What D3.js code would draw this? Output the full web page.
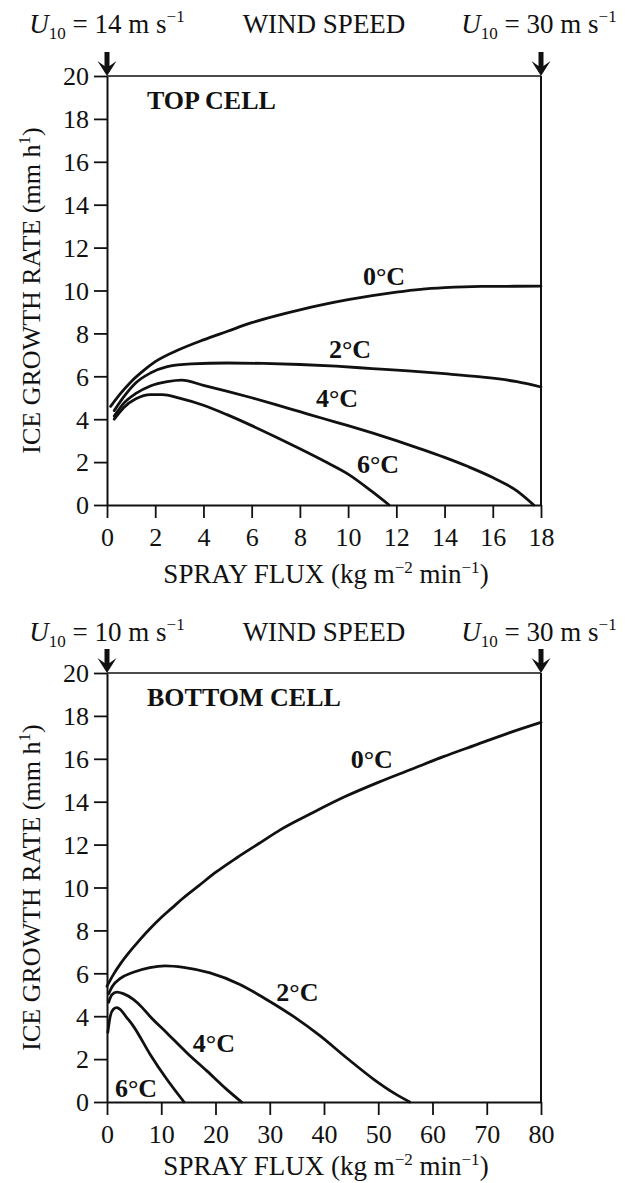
<!DOCTYPE html>
<html>
<head>
<meta charset="utf-8">
<script src="https://cdn.jsdelivr.net/npm/d3@7"></script>
<style>
  html, body { margin: 0; padding: 0; background: #fff; }
  svg { display: block; }
  text { font-family: "Liberation Serif", "Times New Roman", serif; fill: #111; }
</style>
</head>
<body>
<svg id="chart" width="631" height="1183"></svg>
<script>
// ---- data ---------------------------------------------------------------
const rateTicks = [0, 2, 4, 6, 8, 10, 12, 14, 16, 18, 20];
const topFluxTicks = [0, 2, 4, 6, 8, 10, 12, 14, 16, 18];
const bottomFluxTicks = [0, 10, 20, 30, 40, 50, 60, 70, 80];
const temps = ["0°C", "2°C", "4°C", "6°C"];

// Top cell: [spray flux, ice growth rate]
const top0 = [[0.15,4.6],[0.6,5.25],[1,5.75],[1.5,6.25],[2,6.68],[3,7.25],[4,7.7],[5,8.1],[6,8.5],[7,8.82],[8,9.1],[9,9.35],[10,9.57],[11,9.76],[12,9.92],[13,10.05],[14,10.13],[15.5,10.19],[18,10.2]];
const top2 = [[0.3,4.4],[0.7,5.05],[1.2,5.7],[1.8,6.15],[2.5,6.45],[3.5,6.58],[5,6.62],[6.5,6.6],[8,6.55],[9.5,6.47],[11,6.36],[12.5,6.25],[14,6.12],[15.5,5.97],[17,5.75],[18,5.5]];
const top4 = [[0.3,4.15],[0.7,4.75],[1.2,5.2],[1.8,5.55],[2.5,5.75],[3.1,5.82],[4,5.58],[5,5.3],[6,5.0],[7,4.68],[8,4.35],[9,4.02],[10,3.7],[11,3.36],[12,3.0],[13,2.62],[14,2.22],[15,1.78],[16,1.28],[17,0.66],[17.7,0]];
const top6 = [[0.3,4.0],[0.7,4.55],[1.2,4.95],[1.8,5.15],[2.3,5.15],[3,4.98],[4,4.65],[5,4.2],[6,3.7],[7,3.17],[8,2.62],[9,2.05],[10,1.44],[11,0.62],[11.7,0]];

// Bottom cell: [spray flux, ice growth rate]
const bot0 = [[0,5.4],[1.2,5.95],[2.5,6.45],[4,6.95],[6,7.55],[8,8.1],[10,8.6],[12,9.05],[14,9.5],[17,10.1],[20,10.7],[24,11.4],[28,12.05],[32,12.7],[38,13.5],[44,14.25],[50,14.9],[56,15.5],[62,16.1],[68,16.65],[74,17.2],[80,17.7]];
const bot2 = [[0.3,5.05],[1,5.4],[2.4,5.75],[4.85,6.05],[7.9,6.27],[10.7,6.35],[14.1,6.28],[19,6.02],[24.5,5.48],[29.4,4.78],[34.3,4.0],[39.3,3.08],[44.2,2.05],[49.1,1.07],[53,0.4],[55.8,0]];
const bot4 = [[0.3,4.65],[0.9,5.0],[1.8,5.12],[3,5.05],[4.85,4.78],[6.5,4.4],[7.9,4.0],[11,3.23],[14.7,2.3],[18.4,1.45],[22,0.6],[24.8,0]];
const bot6 = [[0.15,3.25],[0.6,4.0],[1.17,4.32],[1.8,4.4],[2.5,4.3],[3.6,3.95],[4.85,3.54],[7.93,2.23],[11,1.07],[14.2,0]];

const windLeftTop = "14", windLeftBottom = "10", windRight = "30";

// ---- layout -------------------------------------------------------------
const svg = d3.select("#chart");
const left = 107, right = 541;

const panels = [
  { title: "TOP CELL", top: 76, bottom: 505, headY: 33, xTitleGap: 78, xMax: 18, xTicks: topFluxTicks,
    series: [top0, top2, top4, top6], windLeft: windLeftTop,
    labels: [[11.49,10.26],[10.08,6.85],[9.54,4.57],[11.24,1.49]] },
  { title: "BOTTOM CELL", top: 673, bottom: 1102, headY: 641, xTitleGap: 73, xMax: 80, xTicks: bottomFluxTicks,
    series: [bot0, bot2, bot4, bot6], windLeft: windLeftBottom,
    labels: [[48.8,15.57],[35.1,4.71],[19.7,2.33],[5.35,0.23]] }
];

function windLabel(g, cx, y, value) {
  const t = g.append("text").attr("x", cx).attr("y", y)
    .attr("text-anchor", "middle").style("font-size", "27px");
  t.append("tspan").style("font-style", "italic").text("U");
  t.append("tspan").style("font-size", "17px").attr("dy", 6).text("10");
  t.append("tspan").attr("dy", -6).text(" = " + value + " m s");
  t.append("tspan").style("font-size", "17px").attr("dy", -11).text("\u22121");
}

function arrow(g, cx, tip) {
  g.append("path")
    .attr("d", `M${cx},${tip} L${cx-9.5},${tip-15} L${cx-2.5},${tip-10} L${cx-2.5},${tip-24} L${cx+2.5},${tip-24} L${cx+2.5},${tip-10} L${cx+9.5},${tip-15} Z`)
    .attr("fill", "#111");
}

panels.forEach(p => {
  const g = svg.append("g");
  const x = d3.scaleLinear().domain([0, p.xMax]).range([left, right]);
  const y = d3.scaleLinear().domain([0, 20]).range([p.bottom, p.top]);

  // frame: top and right edges
  g.append("line").attr("x1", left).attr("x2", right).attr("y1", p.top).attr("y2", p.top)
    .attr("stroke", "#111").attr("stroke-width", 1.6);
  g.append("line").attr("x1", right).attr("x2", right).attr("y1", p.top).attr("y2", p.bottom)
    .attr("stroke", "#111").attr("stroke-width", 2);

  // y axis
  const ya = g.append("g").attr("transform", `translate(${left},0)`)
    .call(d3.axisLeft(y).tickValues(rateTicks).tickSize(13).tickPadding(5).tickSizeOuter(0));
  ya.select(".domain").attr("stroke", "#111").attr("stroke-width", 2);
  ya.selectAll(".tick line").attr("stroke", "#111").attr("stroke-width", 1.8);
  ya.selectAll(".tick text").style("font-size", "26px").attr("fill", "#111")
    .attr("font-family", null).attr("dy", "0.34em");

  // x axis
  const xa = g.append("g").attr("transform", `translate(0,${p.bottom})`)
    .call(d3.axisBottom(x).tickValues(p.xTicks).tickSize(13).tickSizeOuter(0));
  xa.select(".domain").attr("stroke", "#111").attr("stroke-width", 2);
  xa.selectAll(".tick line").attr("stroke", "#111").attr("stroke-width", 1.8);
  xa.selectAll(".tick text").style("font-size", "26px").attr("fill", "#111")
    .attr("font-family", null).attr("y", 41).attr("dy", 0);

  // axis titles
  const yt = g.append("text")
    .attr("transform", `translate(40,${(p.top + p.bottom) / 2}) rotate(-90)`)
    .attr("text-anchor", "middle").style("font-size", "26px");
  yt.append("tspan").text("ICE GROWTH RATE (mm h");
  yt.append("tspan").style("font-size", "17px").attr("dy", -10).text("1");
  yt.append("tspan").attr("dy", 10).text(")");

  const xt = g.append("text").attr("x", 326).attr("y", p.bottom + p.xTitleGap)
    .attr("text-anchor", "middle").style("font-size", "27px");
  xt.append("tspan").text("SPRAY FLUX (kg m");
  xt.append("tspan").style("font-size", "17px").attr("dy", -10).text("\u22122");
  xt.append("tspan").attr("dy", 10).text(" min");
  xt.append("tspan").style("font-size", "17px").attr("dy", -10).text("\u22121");
  xt.append("tspan").attr("dy", 10).text(")");

  // wind speed header with arrows
  windLabel(g, left, p.headY, p.windLeft);
  windLabel(g, right - 2, p.headY, windRight);
  g.append("text").attr("x", (left + right) / 2).attr("y", p.headY)
    .attr("text-anchor", "middle").style("font-size", "27px").text("WIND SPEED");
  arrow(g, left, p.top);
  arrow(g, right, p.top);

  // panel title
  g.append("text").attr("x", 147).attr("y", p.top + 33)
    .style("font-size", "26px").style("font-weight", "bold").text(p.title);

  // curves
  const line = d3.line().x(d => x(d[0])).y(d => y(d[1])).curve(d3.curveMonotoneX);
  p.series.forEach(s => {
    g.append("path").datum(s).attr("d", line)
      .attr("fill", "none").attr("stroke", "#111").attr("stroke-width", 2.8)
      .attr("stroke-linejoin", "round").attr("stroke-linecap", "round");
  });

  // curve labels
  p.labels.forEach((l, i) => {
    g.append("text").attr("x", x(l[0])).attr("y", y(l[1]))
      .attr("text-anchor", "middle").style("font-size", "26px").style("font-weight", "bold")
      .text(temps[i]);
  });
});
</script>
</body>
</html>
